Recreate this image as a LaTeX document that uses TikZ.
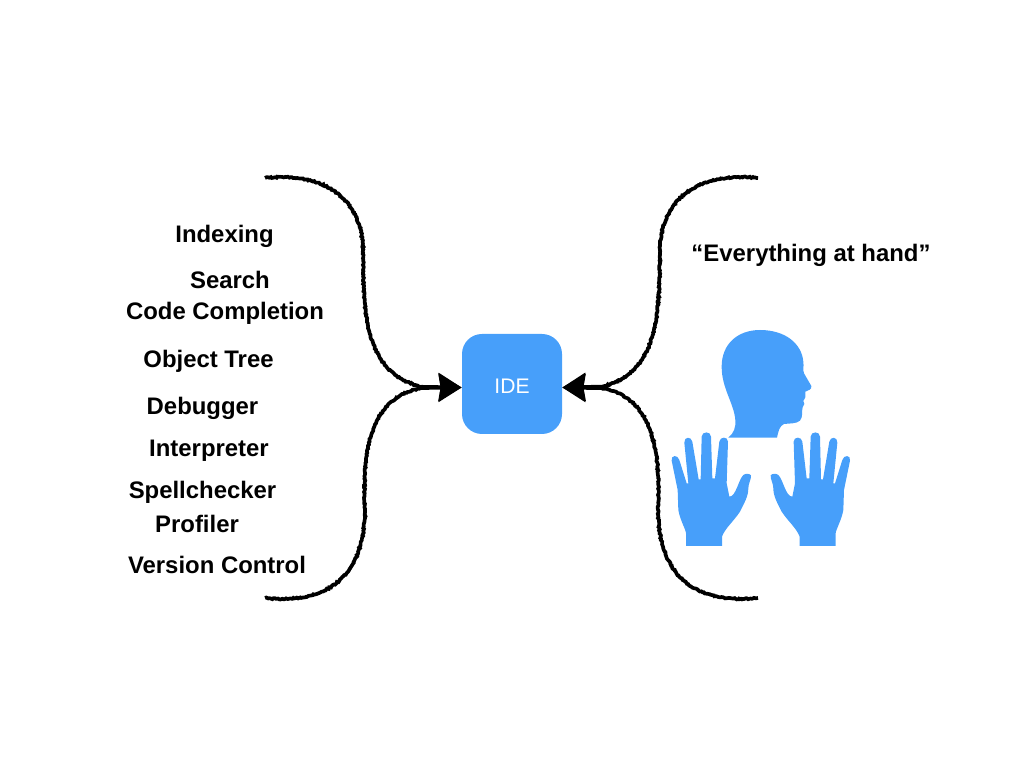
\documentclass[tikz,border=0pt]{standalone}
\usepackage{fontspec}
\setmainfont{Liberation Sans}
\usetikzlibrary{arrows.meta,decorations.pathmorphing}
\definecolor{ideblue}{HTML}{479FFA}

\begin{document}
\begin{tikzpicture}[
  x=0.2mm,y=-0.2mm,
  tool/.style={font=\fontsize{13.6}{16}\selectfont\bfseries,inner sep=0pt},
  idebox/.style={rectangle,rounded corners=4mm,minimum size=20mm,inner sep=0pt,fill=ideblue,text=white,text height=3.85mm,text depth=0pt,font=\fontsize{12}{14}\selectfont},
  charcoal/.style={line width=2.1pt,black,decorate,decoration={random steps,segment length=0.8pt,amplitude=0.35pt,post=lineto,post length=8mm},-{Stealth[length=4.6mm,width=5.6mm,inset=0.4mm]}},
  bodyshape/.style={fill=ideblue,draw=none},
  handshape/.pic={
    \fill[bodyshape] (78,678)--(186,678)--(186,650)
      .. controls (195,625) and (220,605) .. (240,575)
      .. controls (252,550) and (265,530) .. (265,505)
      .. controls (265,490) and (274,478) .. (273,466)
      .. controls (268,460) and (256,460) .. (250,465)
      .. controls (235,480) and (228,530) .. (208,530)
      --(200,490)--(204,365)
      .. controls (204,349) and (180,349) .. (178,365)
      --(165,475)--(157,475)--(153,350)
      .. controls (153,333) and (125,333) .. (125,350)
      --(122,478)--(116,478)--(97,365)
      .. controls (94,349) and (72,349) .. (73,368)
      --(85,490)--(80,490)--(58,420)
      .. controls (53,403) and (32,405) .. (35,422)
      --(53,510)--(55,570)
      .. controls (60,600) and (78,630) .. (78,640)--cycle;
  }
]
  \useasboundingbox (0,0) rectangle (1024,768);

  \node[tool] (indexing) at (224.5,236) {Indexing};
  \node[tool] (search) at (230,280) {Search};
  \node[tool] (completion) at (225,313) {Code Completion};
  \node[tool] (objecttree) at (208.5,361) {Object Tree};
  \node[tool] (debugger) at (202.5,408) {Debugger};
  \node[tool] (interpreter) at (209,451) {Interpreter};
  \node[tool] (spellchecker) at (202.5,492) {Spellchecker};
  \node[tool] (profiler) at (197,524) {Profiler};
  \node[tool] (version) at (217,565) {Version Control};
  \node[tool] (motto) at (811,255) {“Everything at hand”};

  \node[idebox] (IDE) at (512,384) {IDE};

  \coordinate (lefttop) at (265,178);
  \coordinate (leftbot) at (265,598);
  \coordinate (righttop) at (758,178);
  \coordinate (rightbot) at (758,598);
  \draw[charcoal] (lefttop) .. controls (320,172) and (362,195) .. (363,250)
    .. controls (364,310) and (362,375) .. (425,387.5) -- ([yshift=-0.7mm]IDE.west);
  \draw[charcoal] (leftbot) .. controls (325,604) and (364,580) .. (365,510)
    .. controls (362,445) and (372,395) .. (425,387.5) -- ([yshift=-0.7mm]IDE.west);
  \draw[charcoal] (righttop) .. controls (703,172) and (661,195) .. (660,250)
    .. controls (659,310) and (661,375) .. (598,387.5) -- ([yshift=-0.7mm]IDE.east);
  \draw[charcoal] (rightbot) .. controls (698,604) and (659,580) .. (658,510)
    .. controls (661,445) and (651,395) .. (598,387.5) -- ([yshift=-0.7mm]IDE.east);

  % head and hands, traced
  \begin{scope}[shift={(660,320)},x=0.06667mm,y=-0.06667mm]
    \fill[bodyshape] (205,353) .. controls (222,340) and (228,320) .. (226,300)
      .. controls (222,250) and (185,205) .. (185,140)
      .. controls (185,70) and (235,30) .. (300,30)
      .. controls (375,30) and (425,70) .. (430,125)
      .. controls (432,140) and (428,150) .. (432,160)
      -- (454,198) .. controls (456,208) and (445,212) .. (436,215)
      -- (436,232) -- (430,243) -- (433,252) -- (428,262)
      .. controls (424,275) and (430,290) .. (420,302)
      .. controls (410,312) and (385,310) .. (372,312)
      .. controls (358,318) and (355,335) .. (351,353) -- cycle;
    \pic {handshape};
    \pic[xscale=-1] at (605,0) {handshape};
  \end{scope}
\end{tikzpicture}
\end{document}
